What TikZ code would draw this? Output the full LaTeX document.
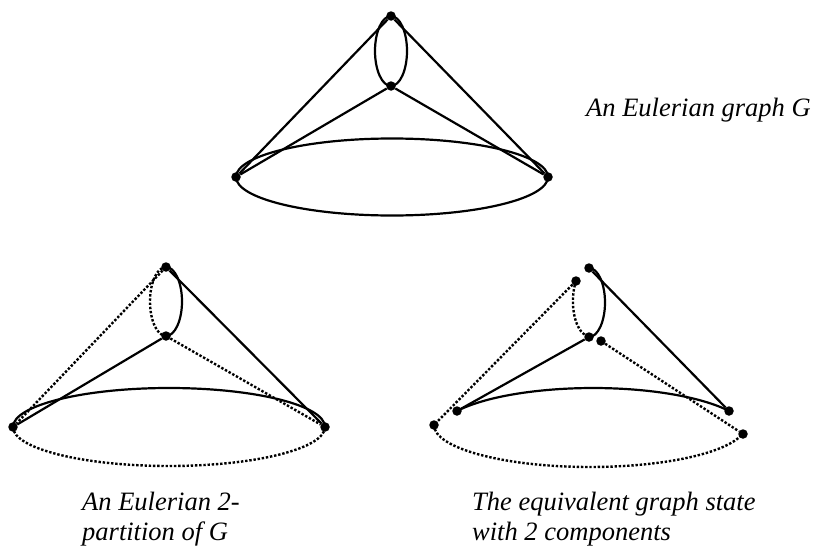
\documentclass[tikz,border=0pt]{standalone}
\usepackage{fontspec}
\setmainfont{Liberation Serif}
\begin{document}
\begin{tikzpicture}[x=1pt,y=1pt,
  edge/.style={line width=2.2pt},
  dotedge/.style={line width=2.4pt, dash pattern=on 2.4pt off 1.8pt},
  vtx/.style={circle, fill=black, inner sep=0pt, minimum size=9.5pt},
  lbl/.style={font=\fontsize{26.5}{31}\selectfont\itshape, inner sep=0pt, anchor=base west}]
\useasboundingbox (0,0) rectangle (815,-546);
% ---------- top graph ----------
\node[vtx] (t1) at (391,-16) {};
\node[vtx] (m1) at (391,-86) {};
\node[vtx] (l1) at (236,-177) {};
\node[vtx] (r1) at (548,-177) {};
\draw[edge] (l1.center) arc[start angle=180, end angle=-180, x radius=156, y radius=38.5];
\draw[edge] (t1.center) arc[start angle=90, end angle=450, x radius=16, y radius=35];
\draw[edge] (t1) -- (l1);
\draw[edge] (t1) -- (r1);
\draw[edge] (m1) -- (l1);
\draw[edge] (m1) -- (r1);
% ---------- bottom left ----------
\node[vtx] (t2) at (166,-267) {};
\node[vtx] (m2) at (166,-336) {};
\node[vtx] (l2) at (13,-427) {};
\node[vtx] (r2) at (325,-427) {};
\draw[edge] (l2.center) arc[start angle=180, end angle=0, x radius=156, y radius=39];
\draw[dotedge] (l2.center) arc[start angle=180, end angle=360, x radius=156, y radius=39];
\draw[edge] (t2.center) arc[start angle=90, end angle=-90, x radius=16, y radius=34.5];
\draw[dotedge] (t2.center) arc[start angle=90, end angle=270, x radius=16, y radius=34.5];
\draw[dotedge] (t2) -- (l2);
\draw[edge] (t2) -- (r2);
\draw[edge] (m2) -- (l2);
\draw[dotedge] (m2) -- (r2);
% ---------- bottom right ----------
\node[vtx] (a) at (589,-268) {};
\node[vtx] (ap) at (576,-281) {};
\node[vtx] (b) at (589,-337) {};
\node[vtx] (bp) at (601,-341) {};
\node[vtx] (c) at (457,-411) {};
\node[vtx] (cp) at (434,-425) {};
\node[vtx] (d) at (729,-411) {};
\node[vtx] (dp) at (743,-434) {};
\draw[edge] (a.center) arc[start angle=90, end angle=-90, x radius=16, y radius=34.5];
\draw[edge] (b) -- (c);
\draw[edge] (a) -- (d);
\draw[edge] (c.center) arc[start angle=150.7, end angle=29.3, x radius=156, y radius=45];
\draw[dotedge] (ap.center) arc[start angle=144, end angle=265, x radius=16, y radius=34.5];
\draw[dotedge] (ap) -- (cp);
\draw[dotedge] (cp.center) arc[start angle=180, end angle=348, x radius=156, y radius=42];
\draw[dotedge] (bp) -- (dp);
% ---------- labels ----------
\node[lbl] (lab1) at (586,-116) {An Eulerian graph G};
\node[lbl] (lab2) at (82,-510) {An Eulerian 2-};
\node[lbl] (lab3) at (82,-540) {partition of G};
\node[lbl] (lab4) at (472,-510) {The equivalent graph state};
\node[lbl] (lab5) at (472,-540) {with 2 components};
\end{tikzpicture}
\end{document}
